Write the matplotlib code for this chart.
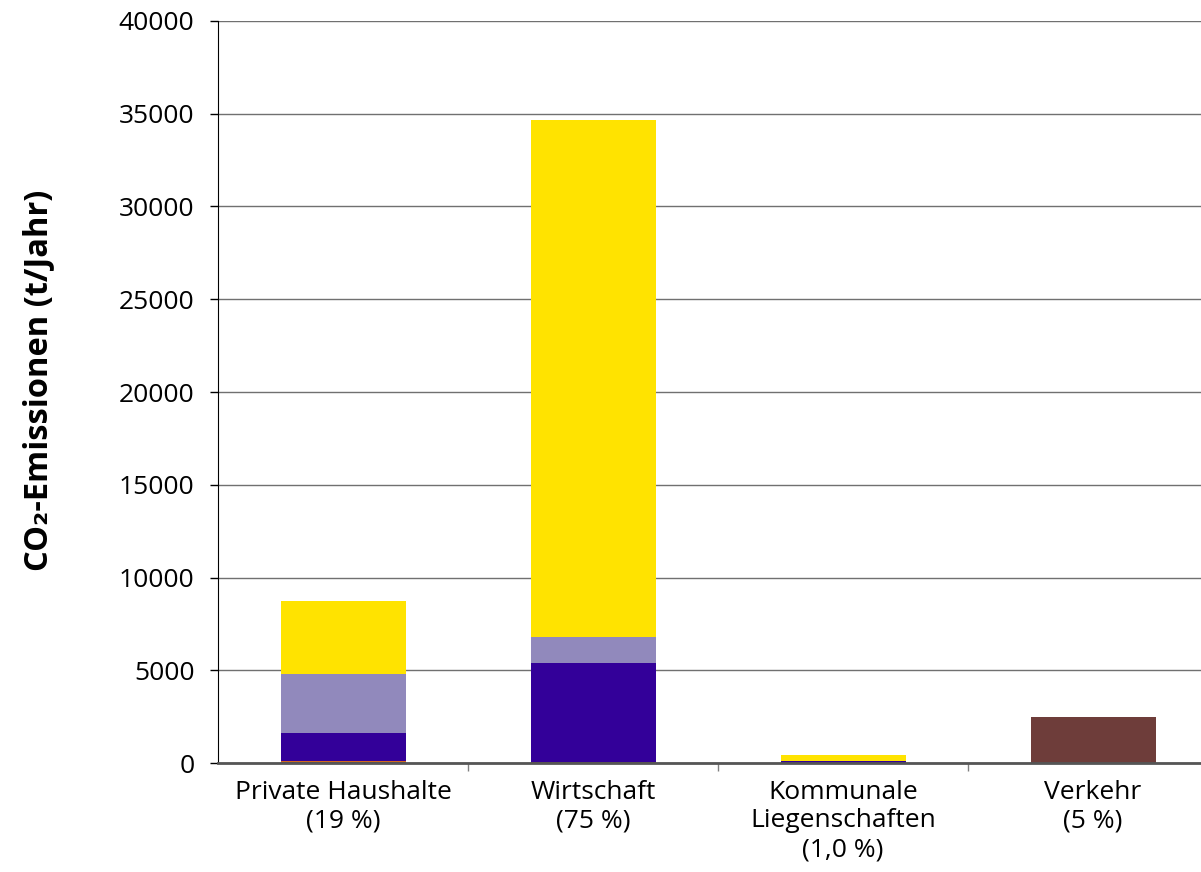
import numpy as np
import matplotlib.pyplot as plt

plt.rcParams['font.family'] = ['Open Sans', 'DejaVu Sans']

categories = ['Private Haushalte\n(19 %)', 'Wirtschaft\n(75 %)',
              'Kommunale\nLiegenschaften\n(1,0 %)', 'Verkehr\n(5 %)']

# stacked layers, bottom to top (t/Jahr)
kraftstoffe = [60, 80, 0, 2480]
sonstige = [50, 0, 0, 0]
erdgas = [1500, 5320, 100, 0]
heizoel = [3200, 1390, 0, 0]
strom = [3930, 27870, 350, 0]

layers = [kraftstoffe, sonstige, erdgas, heizoel, strom]
colors = ['#6E3D3A', '#D2691E', '#330099', '#9189BC', '#FFE300']

fig = plt.figure(figsize=(12.01, 8.72), dpi=100)
ax = fig.add_axes([218 / 1201, 1 - 763 / 872, 1000 / 1201, 742 / 872])

x = np.arange(len(categories))
bottom = np.zeros(len(categories))
for vals, c in zip(layers, colors):
    ax.bar(x, vals, width=0.5, bottom=bottom, color=c, zorder=3)
    bottom += np.array(vals)

ax.set_xlim(-0.5, len(categories) - 0.5)
ax.set_ylim(0, 40000)
ax.set_yticks(np.arange(0, 40001, 5000))
ax.yaxis.grid(True, color='#707070', linewidth=1, zorder=0)

ax.set_xticks(x)
ax.set_xticklabels(categories, fontsize=19)
ax.tick_params(axis='x', length=0, pad=12)
ax.set_xticks(np.arange(0.5, len(categories) - 0.5, 1), minor=True)
ax.tick_params(axis='x', which='minor', length=6, width=1, color='#808080')
ax.tick_params(axis='y', labelsize=19, length=6, width=1, direction='out', pad=11)

for s in ['top', 'right']:
    ax.spines[s].set_visible(False)
ax.spines['left'].set_color('black')
ax.spines['bottom'].set_color('#555555')
ax.spines['bottom'].set_linewidth(2)
ax.spines['bottom'].set_zorder(4)

ax.set_ylabel('CO₂-Emissionen (t/Jahr)', fontsize=23.5, fontweight='bold')
ax.yaxis.set_label_coords(-0.163, 0.515)

fig.savefig('out.png', dpi=100)
